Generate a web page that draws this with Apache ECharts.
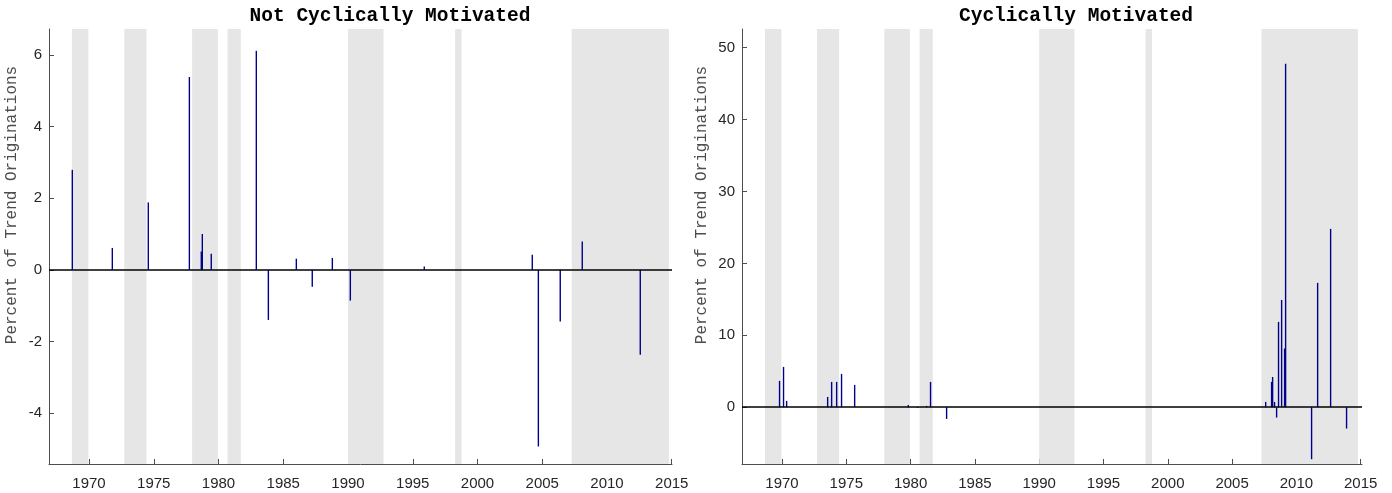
<!DOCTYPE html>
<html><head><meta charset="utf-8">
<script src="https://cdn.jsdelivr.net/npm/echarts@6/dist/echarts.min.js"></script>
<style>html,body{margin:0;padding:0;background:#fff}#c{width:1392px;height:493px}</style>
</head><body><div id="c"></div>
<script>
const leftTitle = 'Not Cyclically Motivated';
const rightTitle = 'Cyclically Motivated';
const yLabel = 'Percent of Trend Originations';
const xTicks = [1970, 1975, 1980, 1985, 1990, 1995, 2000, 2005, 2010, 2015];
const leftYTicks = [-4, -2, 0, 2, 4, 6];
const rightYTicks = [0, 10, 20, 30, 40, 50];
const shadeStart = [1968.68, 1972.72, 1977.96, 1980.70, 1990.00, 1998.27, 2007.28];
const shadeEnd   = [1969.95, 1974.44, 1979.95, 1981.72, 1992.74, 1998.77, 2014.78];
const leftYears  = [1968.71, 1971.80, 1974.58, 1977.75, 1978.67, 1978.75, 1979.44, 1982.92, 1983.85, 1986.01, 1987.24, 1988.79, 1990.18, 1995.89, 2004.23, 2004.70, 2006.39, 2008.09, 2012.57];
const leftValues = [2.79, 0.61, 1.88, 5.38, 0.51, 1.00, 0.45, 6.11, -1.40, 0.31, -0.47, 0.33, -0.86, 0.09, 0.42, -4.93, -1.44, 0.79, -2.37];
const rightYears  = [1969.81, 1970.12, 1970.36, 1973.55, 1973.86, 1974.25, 1974.63, 1975.65, 1979.82, 1980.54, 1981.24, 1981.55, 1982.80, 2007.61, 2008.07, 2008.15, 2008.30, 2008.46, 2008.61, 2008.85, 2009.08, 2009.16, 2011.18, 2011.65, 2012.66, 2013.90];
const rightValues = [3.66, 5.60, 0.88, 1.43, 3.52, 3.52, 4.63, 3.10, 0.32, -0.10, 0.18, 3.52, -1.63, 0.74, 3.52, 4.20, 0.74, -1.44, 11.86, 14.92, 8.16, 47.75, -7.24, 17.29, 24.80, -2.97];

const axisColor = '#4d4d4d';
const labelColor = '#262626';
const barColor = '#00008f';
const shadeColor = '#e6e6e6';

function xAxisFor(gi, mn, mx) {
  return {
    type: 'value', gridIndex: gi, min: mn, max: mx,
    splitLine: { show: false },
    axisLine: { show: true, onZero: false, lineStyle: { color: axisColor, width: 1 } },
    axisTick: { show: true, inside: true, length: 5, customValues: xTicks, lineStyle: { color: axisColor } },
    axisLabel: { customValues: xTicks, color: labelColor, fontSize: 15, fontFamily: 'Liberation Sans, Arial, sans-serif', margin: 12, formatter: v => String(v) }
  };
}
function yAxisFor(gi, mn, mx, ticks) {
  return {
    type: 'value', gridIndex: gi, min: mn, max: mx,
    splitLine: { show: false },
    axisLine: { show: true, onZero: false, lineStyle: { color: axisColor, width: 1 } },
    axisTick: { show: true, inside: true, length: 5, customValues: ticks, lineStyle: { color: axisColor } },
    axisLabel: { customValues: ticks, color: labelColor, fontSize: 15, fontFamily: 'Liberation Sans, Arial, sans-serif', margin: 7, formatter: v => String(v) }
  };
}
function seriesFor(gi, years, values) {
  const bands = shadeStart.map((s, i) => [{ xAxis: s }, { xAxis: shadeEnd[i] }]);
  return [
    { type: 'line', xAxisIndex: gi, yAxisIndex: gi, data: [], z: 1, silent: true,
      markArea: { silent: true, itemStyle: { color: shadeColor }, data: bands } },
    { type: 'bar', xAxisIndex: gi, yAxisIndex: gi, barWidth: 1.4, z: 3, silent: true,
      itemStyle: { color: barColor }, data: years.map((y, i) => [y, values[i]]) },
    { type: 'line', xAxisIndex: gi, yAxisIndex: gi, data: [], z: 5, silent: true,
      markLine: { silent: true, symbol: 'none', label: { show: false },
        lineStyle: { color: '#000', width: 1.5, type: 'solid' }, data: [{ yAxis: 0 }] } }
  ];
}

const chart = echarts.init(document.getElementById('c'), null, { renderer: 'canvas' });
chart.setOption({
  animation: false,
  backgroundColor: '#fff',
  grid: [
    { left: 49, width: 623, top: 29, height: 435 },
    { left: 742, width: 620, top: 29, height: 435 }
  ],
  xAxis: [xAxisFor(0, 1966.91, 2015.02), xAxisFor(1, 1966.89, 2015.10)],
  yAxis: [yAxisFor(0, -5.42, 6.72, leftYTicks), yAxisFor(1, -7.9, 52.6, rightYTicks)],
  series: [...seriesFor(0, leftYears, leftValues), ...seriesFor(1, rightYears, rightValues)],
  graphic: [
    { type: 'text', x: 390, y: 16, style: { text: leftTitle, font: 'bold 19.5px "Liberation Mono", "Courier New", monospace', fill: '#000', align: 'center', verticalAlign: 'middle' } },
    { type: 'text', x: 1076, y: 16, style: { text: rightTitle, font: 'bold 19.5px "Liberation Mono", "Courier New", monospace', fill: '#000', align: 'center', verticalAlign: 'middle' } },
    { type: 'text', x: 12, y: 205, rotation: Math.PI / 2, style: { text: yLabel, font: '16px "Liberation Mono", "Courier New", monospace', fill: '#4d4d4d', align: 'center', verticalAlign: 'middle' } },
    { type: 'text', x: 702, y: 205, rotation: Math.PI / 2, style: { text: yLabel, font: '16px "Liberation Mono", "Courier New", monospace', fill: '#4d4d4d', align: 'center', verticalAlign: 'middle' } }
  ]
});
</script></body></html>
